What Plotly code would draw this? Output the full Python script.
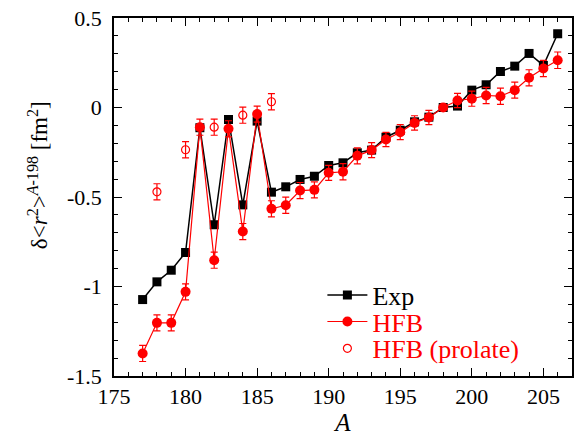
import plotly.graph_objects as go

# mass numbers
A_exp = list(range(177, 207))
exp_vals = [-1.073, -0.974, -0.909, -0.810, -0.113, -0.655, -0.067, -0.544, -0.076, -0.473,
            -0.443, -0.402, -0.384, -0.324, -0.309, -0.253, -0.238, -0.166, -0.127, -0.080,
            -0.054, 0.0, 0.008, 0.097, 0.127, 0.201, 0.231, 0.302, 0.235, 0.412]

A_hfb = list(range(177, 207))
hfb_vals = [-1.374, -1.203, -1.203, -1.030, -0.110, -0.853, -0.119, -0.693, -0.037, -0.566,
            -0.546, -0.464, -0.460, -0.365, -0.359, -0.270, -0.238, -0.179, -0.138, -0.086,
            -0.056, 0.0, 0.039, 0.049, 0.067, 0.063, 0.097, 0.166, 0.218, 0.264]
hfb_err = [0.045, 0.045, 0.045, 0.045, 0.045, 0.045, 0.045, 0.045, 0.045, 0.045,
           0.045, 0.045, 0.045, 0.042, 0.045, 0.045, 0.042, 0.040, 0.042, 0.040,
           0.040, 0.0, 0.040, 0.042, 0.045, 0.045, 0.045, 0.045, 0.045, 0.046]

A_prol = [178, 180, 182, 184, 186]
prol_vals = [-0.471, -0.236, -0.110, -0.043, 0.032]
prol_err = [0.045, 0.045, 0.045, 0.045, 0.045]

y_ticks = [0.5, 0, -0.5, -1, -1.5]
y_ticktext = ["0.5", "0", "-0.5", "-1", "-1.5"]
x_ticks = [175, 180, 185, 190, 195, 200, 205]

RED = "#ff0000"
FONT = "Times New Roman, Liberation Serif, serif"

fig = go.Figure()
fig.add_trace(go.Scatter(
    x=A_exp, y=exp_vals, mode="lines+markers", name="Exp", legend="legend2",
    line=dict(color="black", width=1.5),
    marker=dict(symbol="square", size=9, color="black"),
))
fig.add_trace(go.Scatter(
    x=A_hfb, y=hfb_vals, mode="lines+markers", legend="legend3",
    name="<span style='color:#ff0000'>HFB</span>",
    line=dict(color=RED, width=1.2),
    marker=dict(symbol="circle", size=10, color=RED),
    error_y=dict(type="data", array=hfb_err, color=RED, thickness=1.2, width=3.5),
))
fig.add_trace(go.Scatter(
    x=A_prol, y=prol_vals, mode="markers", legend="legend4",
    name="<span style='color:#ff0000'>HFB (prolate)</span>",
    marker=dict(symbol="circle-open", size=8, color=RED, line=dict(width=1.2)),
    error_y=dict(type="data", array=prol_err, color=RED, thickness=1.2, width=3.5),
))

axis_common = dict(
    showgrid=False, zeroline=False, showline=True, linecolor="black", linewidth=1.5,
    mirror="ticks", ticks="inside", ticklen=8, tickwidth=1.2, tickcolor="black",
    tickfont=dict(family=FONT, size=22, color="black"),
    ticklabeloverflow="allow", automargin=False,
)
fig.update_xaxes(
    range=[175, 207], tickvals=x_ticks,
    minor=dict(dtick=1, ticks="inside", ticklen=4, tickcolor="black", tickwidth=1),
    title=dict(text="<i>A</i>", font=dict(family=FONT, size=25, color="black"), standoff=0),
    **axis_common,
)
fig.update_yaxes(
    range=[-1.5, 0.5], tickvals=y_ticks, ticktext=y_ticktext, ticklabelstandoff=6,
    minor=dict(dtick=0.1, ticks="inside", ticklen=4, tickcolor="black", tickwidth=1),
    **axis_common,
)

legend_style = dict(xanchor="left", yanchor="middle", bgcolor="rgba(0,0,0,0)",
                    font=dict(family=FONT, size=26, color="black"), itemwidth=40)
fig.update_layout(
    width=582, height=436,
    margin=dict(l=114, r=10, t=18, b=60, autoexpand=False),
    plot_bgcolor="white", paper_bgcolor="white",
    font=dict(family=FONT, color="black"),
    showlegend=True,
    legend2=dict(x=0.455, y=0.226, **legend_style),
    legend3=dict(x=0.455, y=0.152, **legend_style),
    legend4=dict(x=0.455, y=0.077, **legend_style),
    annotations=[dict(
        text="δ&lt;<i>r</i><sup>2</sup>&gt;<sup><i>A</i>-198</sup> [fm<sup>2</sup>]",
        xref="paper", yref="paper", x=-0.166, y=0.561, textangle=-90,
        xanchor="center", yanchor="middle", showarrow=False,
        font=dict(family=FONT, size=23, color="black"),
    )],
)

# drop the page's default body margin so the figure sits at the window corner
fig.write_html("out.html", config={"displayModeBar": False},
               post_script="document.body.style.margin='0px';")
